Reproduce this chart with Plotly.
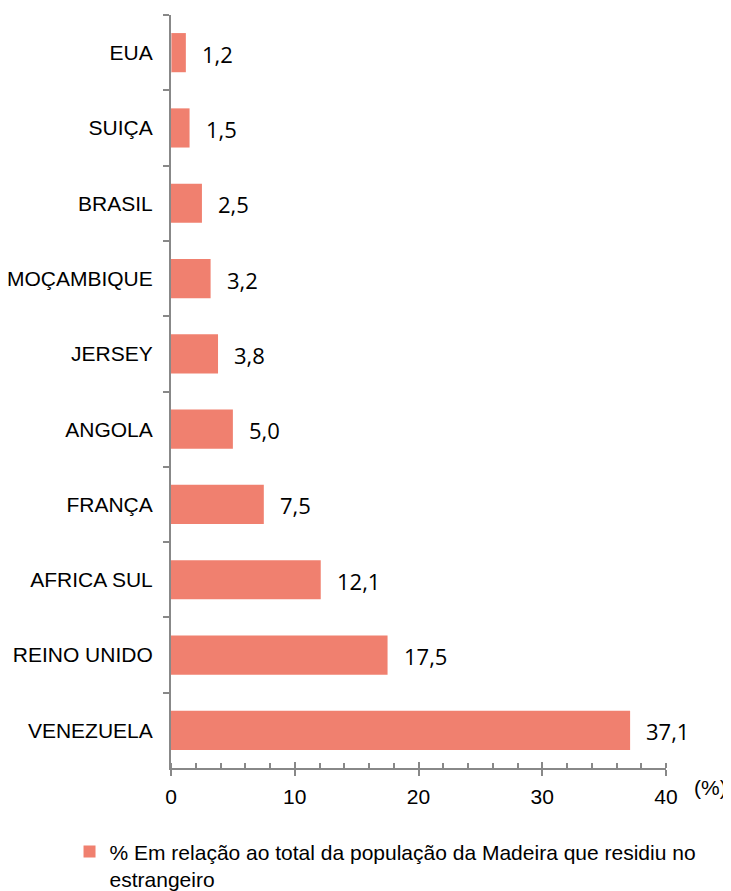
import plotly.graph_objects as go

countries = ["EUA", "SUIÇA", "BRASIL", "MOÇAMBIQUE", "JERSEY", "ANGOLA",
             "FRANÇA", "AFRICA SUL", "REINO UNIDO", "VENEZUELA"]
values = [1.2, 1.5, 2.5, 3.2, 3.8, 5.0, 7.5, 12.1, 17.5, 37.1]
labels = ["1,2", "1,5", "2,5", "3,2", "3,8", "5,0", "7,5", "12,1", "17,5", "37,1"]
series_name = "% Em relação ao total da população da Madeira que residiu no<br>estrangeiro"

BAR = "#F0806F"
AXIS = "#888888"
FONT = "Liberation Sans, Arial, sans-serif"

fig = go.Figure()
fig.add_trace(go.Bar(
    x=values, y=countries, orientation="h",
    marker=dict(color=BAR, line=dict(width=0)),
    name=series_name, showlegend=True,
))
# invisible trace on secondary x axis for crossing major ticks
fig.add_trace(go.Bar(x=[0], y=[countries[0]], orientation="h", xaxis="x2",
                     showlegend=False, hoverinfo="skip",
                     marker=dict(color="rgba(0,0,0,0)")))

for c, v, t in zip(countries, values, labels):
    fig.add_annotation(x=v, y=c, text=t, showarrow=False, xanchor="left",
                       xshift=14, yshift=-1,
                       font=dict(family="Open Sans, sans-serif", size=22, color="#000"))

fig.add_annotation(x=1, y=0, xref="paper", yref="paper", text="(%)", showarrow=False,
                   xanchor="left", yanchor="top", xshift=26, yshift=-6,
                   font=dict(family=FONT, size=21, color="#000"))

fig.update_layout(
    width=723, height=883,
    margin=dict(l=163, r=65, t=7, b=123, autoexpand=False),
    paper_bgcolor="white", plot_bgcolor="white",
    bargap=0.48,
    font=dict(family=FONT, size=21, color="#000"),
    xaxis=dict(range=[0, 40], dtick=10, showgrid=False, zeroline=False, automargin=False,
               showline=True, linecolor=AXIS, linewidth=2,
               ticks="outside", ticklen=6, tickwidth=2, tickcolor=AXIS,
               minor=dict(dtick=2, ticks="inside", ticklen=5, tickwidth=1.5, tickcolor=AXIS),
               tickfont=dict(size=21), ticklabelstandoff=3),
    xaxis2=dict(range=[0, 40], dtick=10, overlaying="x", side="bottom", anchor="y",
                showgrid=False, zeroline=False, showline=False, automargin=False,
                ticks="inside", ticklen=6, tickwidth=2, tickcolor=AXIS,
                showticklabels=False),
    yaxis=dict(categoryorder="array", categoryarray=countries, autorange="reversed",
               showgrid=False, zeroline=False, showline=True, linecolor=AXIS, linewidth=2,
               automargin=False,
               ticks="outside", tickson="boundaries", ticklen=6, tickwidth=2, tickcolor=AXIS,
               tickfont=dict(size=21), ticklabelstandoff=12),
    legend=dict(orientation="h", x=-0.205, xanchor="left", y=-0.084, yanchor="top",
                valign="top",
                font=dict(size=21), itemwidth=30, bgcolor="rgba(0,0,0,0)"),
)

fig.write_html("out.html")
